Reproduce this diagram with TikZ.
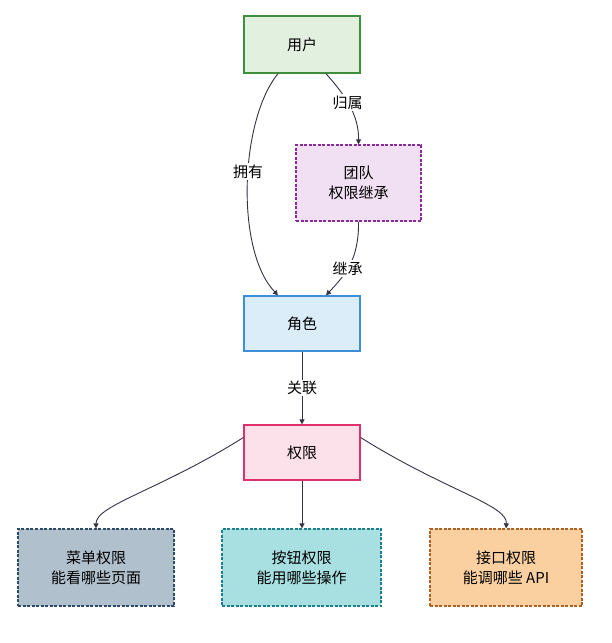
\documentclass[tikz,border=0pt]{standalone}
\usepackage{fontspec}
\setmainfont{Noto Sans CJK SC}
\usetikzlibrary{arrows.meta}
\definecolor{gF}{HTML}{E2F0E0}\definecolor{gD}{HTML}{3E8E3E}
\definecolor{pF}{HTML}{F1E0F3}\definecolor{pD}{HTML}{8A2A9A}
\definecolor{bF}{HTML}{DCEDFA}\definecolor{bD}{HTML}{3C8FD8}
\definecolor{rF}{HTML}{FCE0EA}\definecolor{rD}{HTML}{E0306A}
\definecolor{sF}{HTML}{B0C0CC}\definecolor{sD}{HTML}{2E4A6A}
\definecolor{tF}{HTML}{A8E0E2}\definecolor{tD}{HTML}{1A8090}
\definecolor{oF}{HTML}{FAD0A0}\definecolor{oD}{HTML}{B06020}
\definecolor{eC}{HTML}{333344}
\tikzset{
 box/.style={draw, line width=1.3pt, minimum height=55pt, align=center, font=\fontsize{15}{20}\selectfont, inner sep=0pt},
 dbox/.style={box, dashed, dash pattern=on 3pt off 1.5pt},
 edge/.style={draw=eC, line width=0.9pt, -{Triangle[length=5pt,width=5pt]}},
 lab/.style={fill=white, inner sep=1.5pt, font=\fontsize{15}{18}\selectfont}
}
\begin{document}
\begin{tikzpicture}[x=1pt,y=-1pt]
\useasboundingbox (0,0) rectangle (612,643);
\node[box, fill=gF, draw=gD, minimum width=116pt, minimum height=57pt] (u) at (302,44.5) {用户};
\node[dbox, fill=pF, draw=pD, minimum width=125pt, minimum height=76pt] (t) at (358.5,183) {团队\\权限继承};
\node[box, fill=bF, draw=bD, minimum width=116pt] (r) at (302,323.5) {角色};
\node[box, fill=rF, draw=rD, minimum width=116pt] (p) at (302,452.5) {权限};
\node[dbox, fill=sF, draw=sD, minimum width=156pt, minimum height=77pt] (m) at (96,567.5) {菜单权限\\能看哪些页面};
\node[dbox, fill=tF, draw=tD, minimum width=159pt, minimum height=77pt] (b) at (301.5,567.5) {按钮权限\\能用哪些操作};
\node[dbox, fill=oF, draw=oD, minimum width=152pt, minimum height=77pt] (a) at (506,567.5) {接口权限\\能调哪些 API};
\draw[edge] ([xshift=-24pt]u.south) .. controls (240,120) and (235,250) .. ([xshift=-24pt]r.north) node[pos=0.45, lab] {拥有};
\draw[edge] ([xshift=24pt]u.south) .. controls (345,95) and (359,115) .. (t.north) node[pos=0.45, lab] {归属};
\draw[edge] (t.south) .. controls (359,260) and (345,275) .. ([xshift=24pt]r.north) node[pos=0.55, lab] {继承};
\draw[edge] (r.south) -- (p.south |- p.north) node[midway, lab] {关联};
\draw[edge] ([yshift=15pt]p.west) .. controls (160,490) and (96,505) .. (m.north);
\draw[edge] (p.south) -- (p.south |- b.north);
\draw[edge] ([yshift=15pt]p.east) .. controls (444,490) and (508,505) .. (a.north);
\end{tikzpicture}
\end{document}
